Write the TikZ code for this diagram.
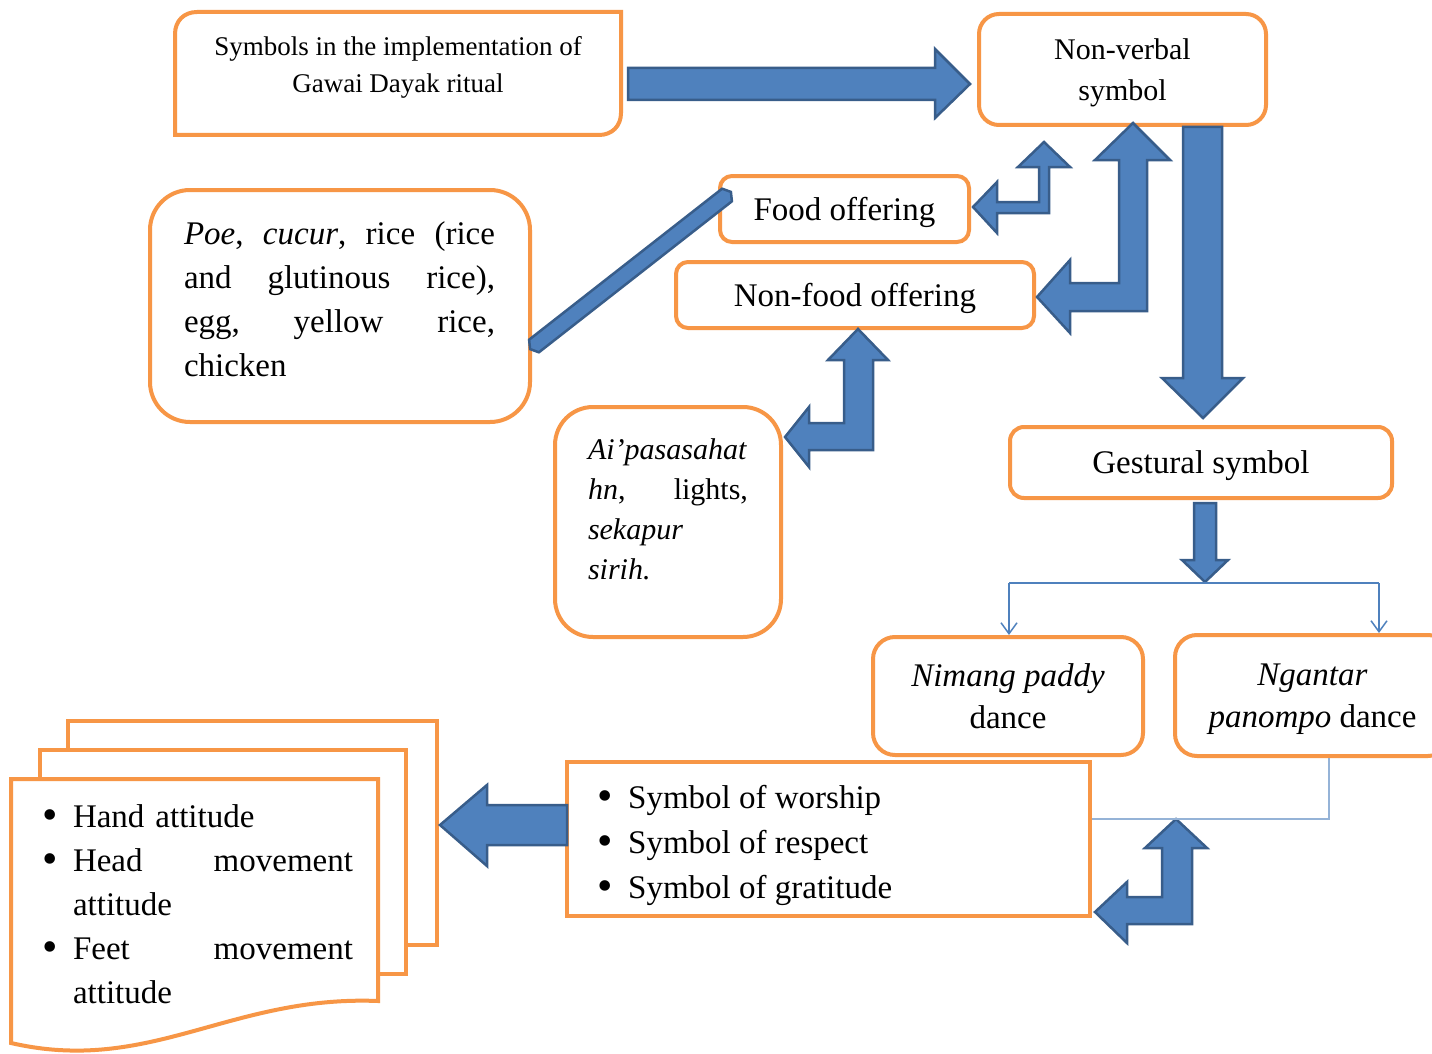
\documentclass[tikz,border=0pt]{standalone}
\usepackage{fontspec}
\setmainfont{Liberation Serif}
\usetikzlibrary{arrows.meta}
\setlength\parindent{0pt}
\definecolor{obord}{HTML}{F79646}
\definecolor{bfill}{HTML}{4F81BD}
\definecolor{bdraw}{HTML}{385D8A}
\definecolor{lblue}{HTML}{95B3D7}
\newcommand\szA{\fontsize{33}{44}\selectfont}
\newcommand\szN{\fontsize{33}{42}\selectfont}
\newcommand\szL{\fontsize{33}{45}\selectfont}
\newcommand\szB{\fontsize{30}{41}\selectfont}
\newcommand\szD{\fontsize{30}{40}\selectfont}
\newcommand\szT{\fontsize{27}{37}\selectfont}
\newcommand\bul{\makebox[29pt][l]{\hspace*{-1.5pt}\raisebox{-2.5pt}{\fontsize{44}{44}\selectfont •}}}
\begin{document}
\begin{tikzpicture}[x=1pt,y=-1pt,
  obox/.style={draw=obord, line width=4pt, fill=white, inner sep=0pt, align=center},
  oline/.style={draw=obord, line width=4pt, fill=white, line join=miter},
  barrow/.style={fill=bfill, draw=bdraw, line width=2.5pt, line join=miter},
  thinline/.style={draw=bfill, line width=1.5pt},
  thinarrow/.style={draw=bfill, line width=1.5pt, -{Straight Barb[length=11pt,width=16pt,line width=1.5pt]}},
  lightline/.style={draw=lblue, line width=2pt},
  txt/.style={inner sep=0pt, align=left}]
\useasboundingbox (0,0) rectangle (1432,1054);
\clip (0,0) rectangle (1432,1054);
\fill[white] (0,0) rectangle (1432,1054);

% ---- top box (diagonal rounded corners)
\draw[oline] (175,135) -- (175,34) .. controls (175,21) and (184,12) .. (197,12) -- (621,12)
  -- (621,113) .. controls (621,126) and (612,135) .. (599,135) -- cycle;
\node[inner sep=0pt, align=center, font=\szT] (top) at (398,67)
  {Symbols in the implementation of\\Gawai Dayak ritual};

% ---- boxes
\node[obox, rounded corners=20pt, minimum width=287pt, minimum height=111pt] (nv) at (1122.5,69.5) {};
\node[inner sep=0pt, align=center, font=\szB] (nvtxt) at (1122.5,73) {Non-verbal\\symbol};
\node[obox, rounded corners=12pt, minimum width=249pt, minimum height=66pt, font=\szA, text depth=0pt] (food) at (844.5,209) {Food offering};
\node[obox, rounded corners=12pt, minimum width=358pt, minimum height=66pt, font=\szA, text depth=0pt] (nonfood) at (855,295) {Non-food offering};
\node[obox, rounded corners=14pt, minimum width=382pt, minimum height=71pt, font=\szA, text depth=0pt] (gest) at (1201,462.5) {Gestural symbol};
\node[obox, rounded corners=22pt, minimum width=270pt, minimum height=118pt, font=\szN] (nimang) at (1008,696) {\textit{Nimang paddy}\\dance};
\node[obox, rounded corners=22pt, minimum width=275pt, minimum height=121pt, font=\szN, text depth=0pt] (ngantar) at (1312.5,695.5) {\textit{Ngantar}\\\textit{panompo} dance};
\node[obox, minimum width=523pt, minimum height=154pt] (list) at (828.5,839) {};
\node[txt, font=\szL, anchor=west] (listtxt) at (599,845)
  {\bul Symbol of worship\\\bul Symbol of respect\\\bul Symbol of gratitude};

\node[obox, rounded corners=40pt, minimum width=380pt, minimum height=232pt] (poe) at (340,306) {};
\node[txt, font=\szA, text width=311pt] (poetxt) at (339.5,299)
  {\makebox[311pt]{\textit{Poe},\hfill\textit{cucur},\hfill rice\hfill(rice}\\
   \makebox[311pt]{and\hfill glutinous\hfill rice),}\\
   \makebox[311pt]{egg,\hfill yellow\hfill rice,}\\
   chicken};

\node[obox, rounded corners=38pt, minimum width=226pt, minimum height=230pt] (ai) at (668,522) {};
\node[txt, font=\szD, text width=160pt] (aitxt) at (668,509.5)
  {\textit{Ai’pasasahat}\\
   \makebox[160pt]{\textit{hn},\hfill lights,}\\
   \textit{sekapur}\\
   \textit{sirih.}};

% ---- document stack
\draw[oline] (68,721) rectangle (437,945);
\draw[oline] (40,750) rectangle (406,974);
\draw[oline] (11,779) -- (378,779) -- (378,1001) .. controls (230,995) and (150,1075) .. (11,1043) -- cycle;
\node[txt, font=\szA, text width=309pt] (doctxt) at (198.5,904)
  {\bul Hand attitude\\
   \bul\makebox[280pt]{Head\hfill movement}\\
   \hspace*{29pt}attitude\\
   \bul\makebox[280pt]{Feet\hfill movement}\\
   \hspace*{29pt}attitude};

% ---- block arrows
% top -> non-verbal
\draw[barrow] (628,68) -- (935,68) -- (935,49) -- (970,84) -- (935,118) -- (935,100) -- (628,100) -- cycle;
% diagonal bar poe -- food
\draw[barrow] (538.9,352.3) -- (530.1,349.1) -- (529.1,339.7) -- (722.1,188.7) -- (730.9,191.9) -- (731.9,201.3) -- cycle;
% bent arrow nv <-> food
\draw[barrow] (973,207) -- (997,182) -- (997,202) -- (1039,202) -- (1039,167) -- (1018,167) -- (1044,142)
  -- (1070,167) -- (1049,167) -- (1049,213) -- (997,213) -- (997,233) -- cycle;
% bent arrow nv <-> non-food
\draw[barrow] (1037,297) -- (1070,260) -- (1070,283) -- (1119,283) -- (1119,160) -- (1095,160) -- (1133,123)
  -- (1170,160) -- (1147,160) -- (1147,311) -- (1070,311) -- (1070,333) -- cycle;
% nv -> gestural
\draw[barrow] (1183,127) -- (1222,127) -- (1222,378) -- (1243,378) -- (1203,418) -- (1162,378) -- (1183,378) -- cycle;
% gestural -> split
\draw[barrow] (1194,503) -- (1216,503) -- (1216,560) -- (1228,560) -- (1205,582) -- (1182,560) -- (1194,560) -- cycle;
% non-food <-> ai
\draw[barrow] (858,329) -- (888,360) -- (873,360) -- (873,450) -- (809,450) -- (809,467) -- (785,437)
  -- (809,407) -- (809,423) -- (844,423) -- (844,360) -- (828,360) -- cycle;
% list -> doc
\draw[barrow] (567,805) -- (487,805) -- (487,785) -- (440,825) -- (487,866) -- (487,845) -- (567,845) -- cycle;
% bottom-right bent arrow
\draw[barrow] (1095,912) -- (1127,882) -- (1127,897) -- (1162,897) -- (1162,848) -- (1145,848) -- (1176,819)
  -- (1207,848) -- (1192,848) -- (1192,924) -- (1127,924) -- (1127,943) -- cycle;

% ---- thin connectors
\coordinate (bl) at (1009,583);
\coordinate (br) at (1379,583);
\draw[thinline] (bl) -- (br);
\draw[thinarrow] (bl) -- (bl |- nimang.north);
\draw[thinarrow] (br) -- (br |- ngantar.north);
\coordinate (j2) at (1329,819);
\draw[lightline] (list.east |- j2) -- (j2) -- (j2 |- ngantar.south);
\end{tikzpicture}
\end{document}
